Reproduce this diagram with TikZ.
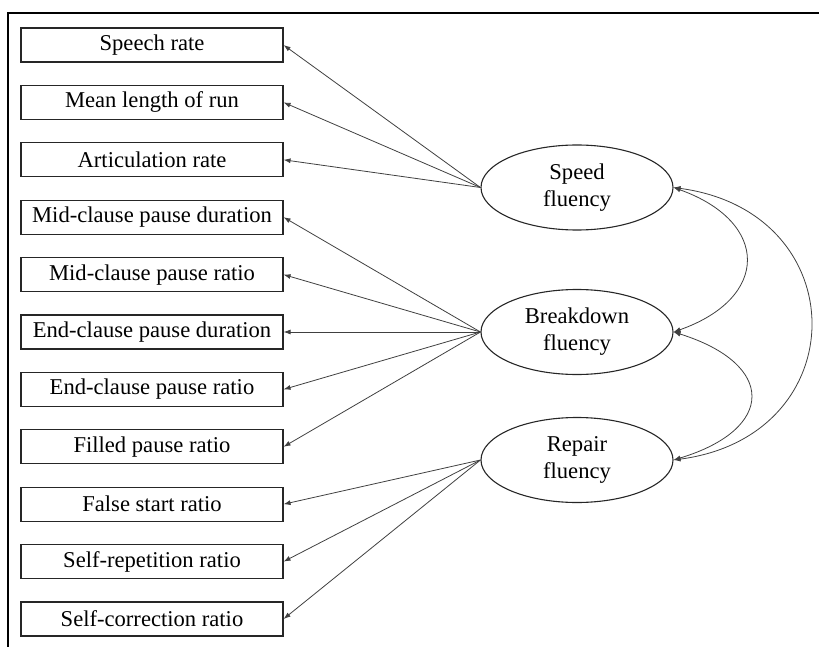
\documentclass[tikz,border=0pt]{standalone}
\usepackage{fontspec}
\setmainfont{Liberation Serif}
\usetikzlibrary{shapes.geometric,arrows.meta}
\begin{document}
\begin{tikzpicture}[x=1pt,y=-1pt,
  indicator/.style={draw=black!85,line width=1.1pt,rectangle,minimum width=262pt,minimum height=34pt,inner sep=0pt,
    font=\fontsize{22.6}{26}\selectfont},
  factor/.style={draw=black!85,line width=1.1pt,ellipse,minimum width=192pt,minimum height=85pt,inner sep=0pt,
    align=center,font=\fontsize{22.6}{27}\selectfont},
  load/.style={draw=black!75,line width=0.8pt,-{Latex[length=7pt,width=5pt]}},
  cov/.style={draw=black!75,line width=0.8pt,{Latex[length=7pt,width=5pt]}-{Latex[length=7pt,width=5pt]}}
]
\useasboundingbox (0,0) rectangle (819,647);
% outer frame (top and left rules)
\draw[line width=2.4pt] (8,647) -- (8,13) -- (819,13);

% observed indicators
\node[indicator] (i1)  at (152,45.0)  {Speech rate};
\node[indicator] (i2)  at (152,102.4) {Mean length of run};
\node[indicator] (i3)  at (152,159.8) {Articulation rate};
\node[indicator] (i4)  at (152,217.2) {Mid-clause pause duration};
\node[indicator] (i5)  at (152,274.6) {Mid-clause pause ratio};
\node[indicator] (i6)  at (152,332.0) {End-clause pause duration};
\node[indicator] (i7)  at (152,389.4) {End-clause pause ratio};
\node[indicator] (i8)  at (152,446.8) {Filled pause ratio};
\node[indicator] (i9)  at (152,504.2) {False start ratio};
\node[indicator] (i10) at (152,561.6) {Self-repetition ratio};
\node[indicator] (i11) at (152,619.0) {Self-correction ratio};

% latent factors
\node[factor] (sp) at (577,187.5) {Speed\\fluency};
\node[factor] (bd) at (577,332)   {Breakdown\\fluency};
\node[factor] (rp) at (577,460)   {Repair\\fluency};

% factor loadings
\foreach \i in {1,2,3} \draw[load] (sp.west) -- (i\i.east);
\foreach \i in {4,5,6,7,8} \draw[load] (bd.west) -- (i\i.east);
\foreach \i in {9,10,11} \draw[load] (rp.west) -- (i\i.east);

% factor covariances
\draw[cov] (sp.east) .. controls (770,222) and (770,298) .. (bd.east);
\draw[cov] (bd.east) .. controls (776,364) and (776,429) .. (rp.east);
\draw[cov] (sp.east) .. controls (856,212) and (856,436) .. (rp.east);
\end{tikzpicture}
\end{document}
